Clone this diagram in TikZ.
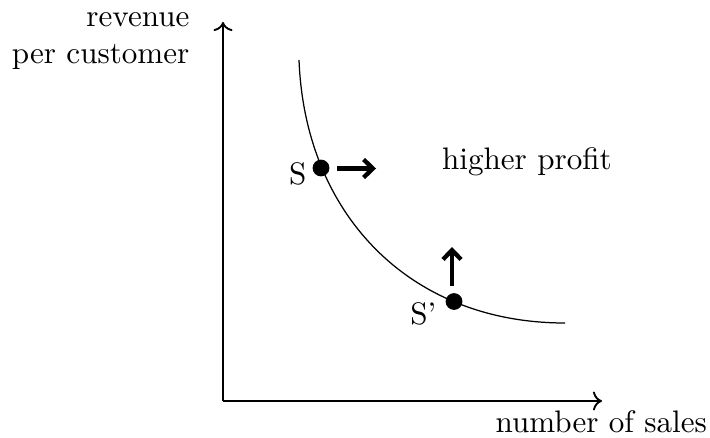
\documentclass[tikz,border=0pt]{standalone}
\usetikzlibrary{arrows.meta}
\begin{document}
\begin{tikzpicture}[x=0.3215pt,y=-0.3215pt,
  axis/.style={semithick,->},
  dot/.style={circle,fill=black,inner sep=0pt,minimum size=5.4pt},
  push/.style={line width=1.4pt,-{Straight Barb[length=3pt,width=5.8pt]}},
  lbl/.style={inner sep=0pt}]
\useasboundingbox (0,0) rectangle (710,437);
% axes
\coordinate (O) at (223,401);
\coordinate (xend) at (602,401);
\coordinate (yend) at (223,22);
\draw[axis] (O) -- (xend);
\draw[axis] (O) -- (yend);
\node[lbl,anchor=base west] (xl) at (495,432) {number of sales};
\node[lbl,anchor=east,align=right] (yl) at (190,41) {revenue\\per customer};
% curve
\coordinate (c0) at (299,60);
\coordinate (c3) at (565,323);
\draw (c0) .. controls (305,215) and (410,323) .. (c3);
% points
\node[dot] (S) at (321,168) {};
\node[dot] (S2) at (454,301.5) {};
\node[lbl,anchor=base east] (Sl) at (307,184.3) {S};
\node[lbl,anchor=base east] (S2l) at (437,324.3) {S'};
% movement arrows
\coordinate (Sa) at (337,168.5);
\coordinate (Sb) at (376,168.5);
\draw[push] (Sa) -- (Sb);
\coordinate (S2a) at (452,286);
\coordinate (S2b) at (452,247);
\draw[push] (S2a) -- (S2b);
\node[lbl,anchor=base west] (hp) at (441.5,170) {higher profit};
\end{tikzpicture}
\end{document}
